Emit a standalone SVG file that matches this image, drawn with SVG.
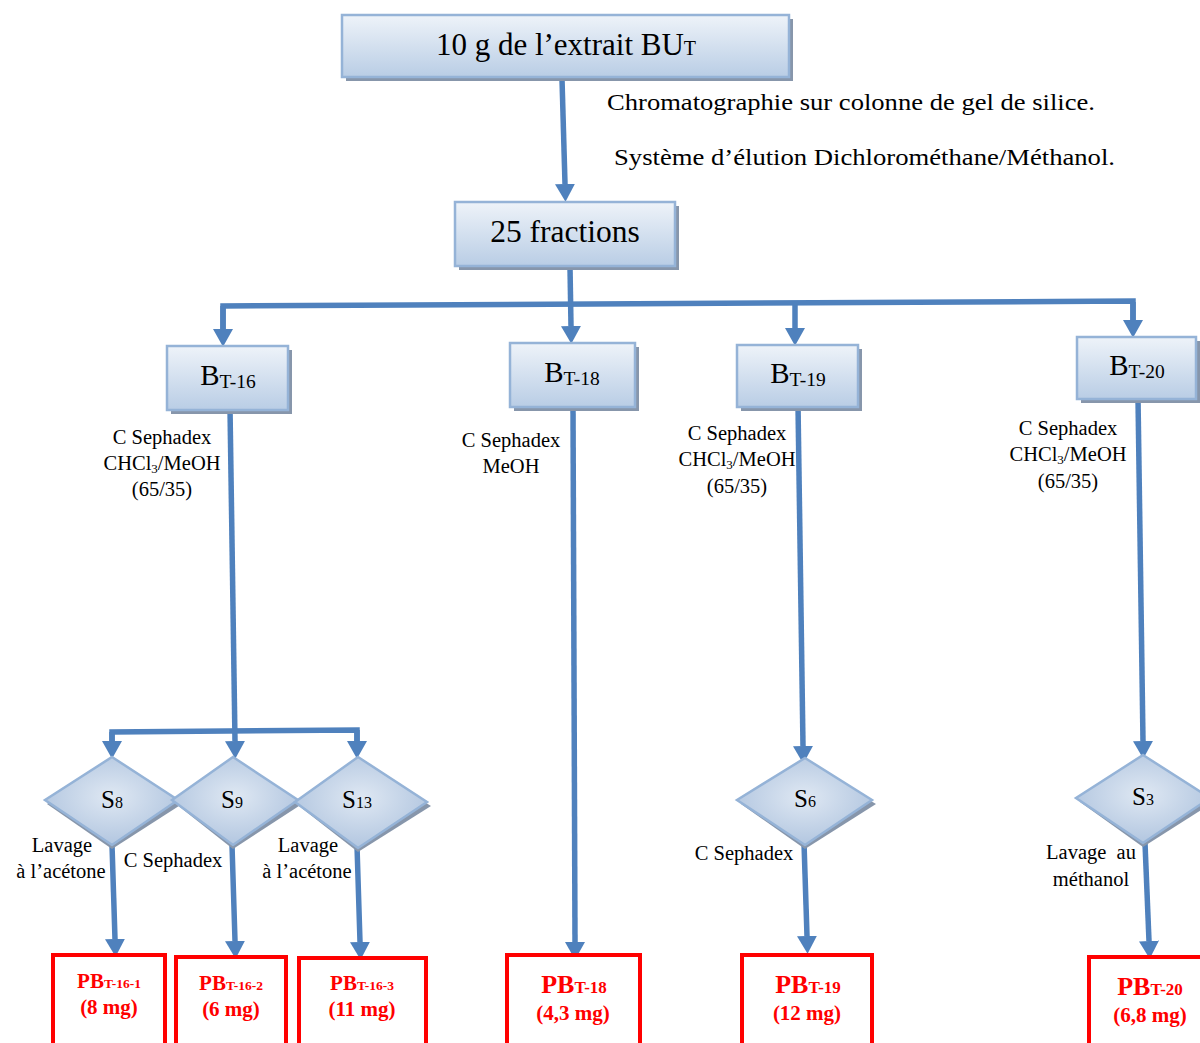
<svg xmlns="http://www.w3.org/2000/svg" width="1200" height="1043" viewBox="0 0 1200 1043">
  <defs>
    <linearGradient id="boxFill" x1="0" y1="0" x2="0" y2="1">
      <stop offset="0" stop-color="#eef3f9"/>
      <stop offset="1" stop-color="#b9cde5"/>
    </linearGradient>
    <radialGradient id="diaFill" cx="0.5" cy="0.45" r="0.6">
      <stop offset="0" stop-color="#dfe8f3"/>
      <stop offset="1" stop-color="#aec3de"/>
    </radialGradient>
    <marker id="arr" markerUnits="userSpaceOnUse" markerWidth="18" markerHeight="20" viewBox="0 0 16 18" refX="0" refY="9" orient="auto">
      <path d="M0,0 L16,9 L0,18 Z" fill="#4f81bd"/>
    </marker>
  </defs>
  <style>
    .box { fill: url(#boxFill); stroke: #95b3d7; stroke-width: 2.5; }
    .shadow { fill: #8796ab; }
    .dia { fill: url(#diaFill); stroke: #95b3d7; stroke-width: 2.5; }
    .res { fill: #ffffff; stroke: #ff0000; stroke-width: 4; }
    .con { fill: none; stroke: #4f81bd; stroke-width: 5.5; stroke-linejoin: miter; }
    .t { font-family: "Liberation Serif", "Times New Roman", serif; fill: #000; }
    .lbl { font-size: 20.5px; }
    .r { font-family: "Liberation Serif", "Times New Roman", serif; fill: #ff0000; font-weight: bold; }
  </style>
  <rect width="1200" height="1043" fill="#ffffff"/>

  <!-- connectors -->
  <g id="connectors">
    <path class="con" d="M562,79 L565,184" marker-end="url(#arr)"/>
    <path class="con" d="M570,267 L571,326" marker-end="url(#arr)"/>
    <path class="con" d="M223,329 L223,306 L1133,301 L1133,320"/>
    <path class="con" d="M223,306 L223,329" marker-end="url(#arr)"/>
    <path class="con" d="M795,304 L795,328" marker-end="url(#arr)"/>
    <path class="con" d="M1133,302 L1133,320" marker-end="url(#arr)"/>
    <path class="con" d="M230,408 L235,741" marker-end="url(#arr)"/>
    <path class="con" d="M112,741 L112,732 L357,730 L357,741"/>
    <path class="con" d="M112,732 L112,741" marker-end="url(#arr)"/>
    <path class="con" d="M357,730 L357,741" marker-end="url(#arr)"/>
    <path class="con" d="M573,405 L575,942" marker-end="url(#arr)"/>
    <path class="con" d="M798,405 L803,746" marker-end="url(#arr)"/>
    <path class="con" d="M1138,398 L1143,741" marker-end="url(#arr)"/>
    <path class="con" d="M112,845 L115,939" marker-end="url(#arr)"/>
    <path class="con" d="M232,845 L235,941" marker-end="url(#arr)"/>
    <path class="con" d="M357,846 L360,942" marker-end="url(#arr)"/>
    <path class="con" d="M804,843 L807,936" marker-end="url(#arr)"/>
    <path class="con" d="M1145,843 L1149,941" marker-end="url(#arr)"/>
  </g>

  <!-- process notes -->
  <g id="notes">
    <text class="t" x="607" y="110" font-size="24" textLength="488" lengthAdjust="spacingAndGlyphs">Chromatographie sur colonne de gel de silice.</text>
    <text class="t" x="614" y="165" font-size="24" textLength="501" lengthAdjust="spacingAndGlyphs">Système d’élution Dichlorométhane/Méthanol.</text>
  </g>

  <!-- boxes -->
  <g id="extrait">
    <rect class="shadow" x="346" y="19" width="447" height="62"/>
    <rect class="box" x="342" y="15" width="447" height="62"/>
    <text class="t" x="566" y="55" font-size="31" text-anchor="middle">10 g de l’extrait BU<tspan font-size="20">T</tspan></text>
  </g>
  <g id="fractions">
    <rect class="shadow" x="459" y="206" width="220" height="64"/>
    <rect class="box" x="455" y="202" width="220" height="64"/>
    <text class="t" x="565" y="242" font-size="31.5" text-anchor="middle">25 fractions</text>
  </g>
  <g id="bt16">
    <rect class="shadow" x="171" y="350" width="121" height="64"/>
    <rect class="box" x="167" y="346" width="121" height="64"/>
    <text class="t" x="228" y="385" font-size="29" text-anchor="middle">B<tspan font-size="19.5" dy="3">T-16</tspan></text>
    <text class="t lbl" x="162" y="444" text-anchor="middle">C Sephadex</text>
    <text class="t lbl" x="162" y="470" text-anchor="middle">CHCl<tspan font-size="13" dy="3">3</tspan><tspan dy="-3">/MeOH</tspan></text>
    <text class="t lbl" x="162" y="496" text-anchor="middle">(65/35)</text>
  </g>
  <g id="bt18">
    <rect class="shadow" x="514" y="347" width="125" height="64"/>
    <rect class="box" x="510" y="343" width="125" height="64"/>
    <text class="t" x="572" y="382" font-size="29" text-anchor="middle">B<tspan font-size="19.5" dy="3">T-18</tspan></text>
    <text class="t lbl" x="511" y="447" text-anchor="middle">C Sephadex</text>
    <text class="t lbl" x="511" y="473" text-anchor="middle">MeOH</text>
  </g>
  <g id="bt19">
    <rect class="shadow" x="741" y="349" width="121" height="62"/>
    <rect class="box" x="737" y="345" width="121" height="62"/>
    <text class="t" x="798" y="383" font-size="29" text-anchor="middle">B<tspan font-size="19.5" dy="3">T-19</tspan></text>
    <text class="t lbl" x="737" y="440" text-anchor="middle">C Sephadex</text>
    <text class="t lbl" x="737" y="466" text-anchor="middle">CHCl<tspan font-size="13" dy="3">3</tspan><tspan dy="-3">/MeOH</tspan></text>
    <text class="t lbl" x="737" y="493" text-anchor="middle">(65/35)</text>
  </g>
  <g id="bt20">
    <rect class="shadow" x="1081" y="341" width="119" height="62"/>
    <rect class="box" x="1077" y="337" width="119" height="62"/>
    <text class="t" x="1137" y="375" font-size="29" text-anchor="middle">B<tspan font-size="19.5" dy="3">T-20</tspan></text>
    <text class="t lbl" x="1068" y="435" text-anchor="middle">C Sephadex</text>
    <text class="t lbl" x="1068" y="461" text-anchor="middle">CHCl<tspan font-size="13" dy="3">3</tspan><tspan dy="-3">/MeOH</tspan></text>
    <text class="t lbl" x="1068" y="488" text-anchor="middle">(65/35)</text>
  </g>

  <!-- diamonds -->
  <g id="s8">
    <path class="shadow" d="M112,761 L182,804 L112,849 L47,804 Z"/>
    <path class="dia" d="M112,757 L178,800 L112,845 L45,800 Z"/>
    <text class="t" x="112" y="808" font-size="25" text-anchor="middle">S<tspan font-size="16">8</tspan></text>
    <text class="t lbl" x="62" y="852" text-anchor="middle">Lavage</text>
    <text class="t lbl" x="61" y="878" text-anchor="middle">à l’acétone</text>
  </g>
  <g id="s9">
    <path class="shadow" d="M233,761 L302,804 L233,849 L176,804 Z"/>
    <path class="dia" d="M233,757 L298,800 L233,845 L172,800 Z"/>
    <text class="t" x="232" y="808" font-size="25" text-anchor="middle">S<tspan font-size="16">9</tspan></text>
    <text class="t lbl" x="173" y="867" text-anchor="middle">C Sephadex</text>
  </g>
  <g id="s13">
    <path class="shadow" d="M358,761 L431,806 L358,852 L299,806 Z"/>
    <path class="dia" d="M358,757 L427,802 L358,848 L295,802 Z"/>
    <text class="t" x="357" y="808" font-size="25" text-anchor="middle">S<tspan font-size="16">13</tspan></text>
    <text class="t lbl" x="308" y="852" text-anchor="middle">Lavage</text>
    <text class="t lbl" x="307" y="878" text-anchor="middle">à l’acétone</text>
  </g>
  <g id="s6">
    <path class="shadow" d="M805,762 L876,804 L805,849 L741,804 Z"/>
    <path class="dia" d="M805,758 L872,800 L805,845 L737,800 Z"/>
    <text class="t" x="805" y="807" font-size="25" text-anchor="middle">S<tspan font-size="16">6</tspan></text>
    <text class="t lbl" x="744" y="860" text-anchor="middle">C Sephadex</text>
  </g>
  <g id="s3">
    <path class="shadow" d="M1143,759 L1214,802 L1143,847 L1080,802 Z"/>
    <path class="dia" d="M1143,755 L1210,798 L1143,843 L1076,798 Z"/>
    <text class="t" x="1143" y="805" font-size="25" text-anchor="middle">S<tspan font-size="16">3</tspan></text>
    <text class="t lbl" x="1091" y="859" text-anchor="middle" xml:space="preserve">Lavage  au</text>
    <text class="t lbl" x="1091" y="886" text-anchor="middle">méthanol</text>
  </g>

  <!-- isolated products -->
  <g id="pb16-1">
    <rect class="res" x="53" y="955" width="112" height="100"/>
    <text class="r" x="109" y="988" font-size="21" text-anchor="middle">PB<tspan font-size="13.5">T-16-1</tspan></text>
    <text class="r" x="109" y="1014" font-size="21" text-anchor="middle">(8 mg)</text>
  </g>
  <g id="pb16-2">
    <rect class="res" x="176" y="957" width="110" height="100"/>
    <text class="r" x="231" y="990" font-size="21" text-anchor="middle">PB<tspan font-size="13.5">T-16-2</tspan></text>
    <text class="r" x="231" y="1016" font-size="21" text-anchor="middle">(6 mg)</text>
  </g>
  <g id="pb16-3">
    <rect class="res" x="299" y="958" width="127" height="100"/>
    <text class="r" x="362" y="990" font-size="21" text-anchor="middle">PB<tspan font-size="13.5">T-16-3</tspan></text>
    <text class="r" x="362" y="1016" font-size="21" text-anchor="middle">(11 mg)</text>
  </g>
  <g id="pb18">
    <rect class="res" x="507" y="955" width="133" height="100"/>
    <text class="r" x="574" y="993" font-size="26" text-anchor="middle">PB<tspan font-size="17">T-18</tspan></text>
    <text class="r" x="573" y="1020" font-size="21" text-anchor="middle">(4,3 mg)</text>
  </g>
  <g id="pb19">
    <rect class="res" x="742" y="955" width="130" height="100"/>
    <text class="r" x="808" y="993" font-size="26" text-anchor="middle">PB<tspan font-size="17">T-19</tspan></text>
    <text class="r" x="807" y="1020" font-size="21" text-anchor="middle">(12 mg)</text>
  </g>
  <g id="pb20">
    <rect class="res" x="1089" y="957" width="130" height="100"/>
    <text class="r" x="1150" y="995" font-size="26" text-anchor="middle">PB<tspan font-size="17">T-20</tspan></text>
    <text class="r" x="1150" y="1022" font-size="21" text-anchor="middle">(6,8 mg)</text>
  </g>
</svg>
